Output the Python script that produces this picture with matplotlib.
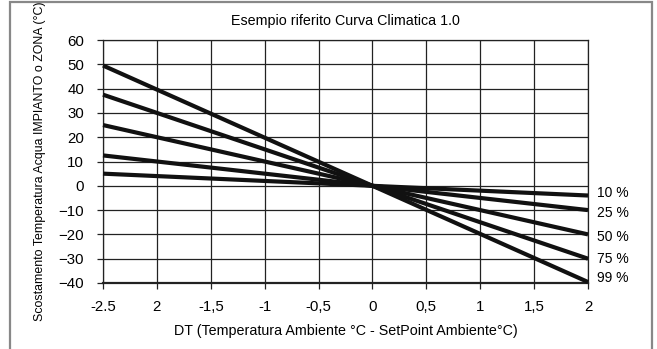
import matplotlib
matplotlib.use("Agg")
from matplotlib import pyplot as plt
from matplotlib.patches import Rectangle

plt.rcParams['font.family'] = ['Liberation Sans', 'DejaVu Sans']

x_ends = [-2.5, 2]
x_ticks = [-2.5, -2, -1.5, -1, -0.5, 0, 0.5, 1, 1.5, 2]
x_tick_labels = ['-2.5', '2', '-1,5', '-1', '-0,5', '0', '0,5', '1', '1,5', '2']
y_ticks = [-40, -30, -20, -10, 0, 10, 20, 30, 40, 50, 60]

curve_names = ['10 %', '25 %', '50 %', '75 %', '99 %']
curve_values = {
    '10 %': [5, -4],
    '25 %': [12.5, -10],
    '50 %': [25, -20],
    '75 %': [37.5, -30],
    '99 %': [49.5, -39.6],
}
label_y = {'10 %': -3, '25 %': -11, '50 %': -21, '75 %': -30, '99 %': -38}

fig = plt.figure(figsize=(6.57, 3.49), dpi=100, facecolor='white')
ax = fig.add_axes([103 / 657, 1 - 283 / 349, 485 / 657, 243 / 349])

for name in curve_names:
    ax.plot(x_ends, curve_values[name], color='#111111', lw=3.0,
            solid_capstyle='butt', zorder=3, clip_on=False)
    ax.text(2.08, label_y[name], name, fontsize=10, va='center', ha='left')

ax.set_xlim(-2.5, 2)
ax.set_ylim(-40, 60)
ax.set_xticks(x_ticks)
ax.set_xticklabels(x_tick_labels)
ax.set_yticks(y_ticks)
ax.grid(True, color='#222222', lw=0.9)
ax.set_axisbelow(True)
for s in ax.spines.values():
    s.set_color('#222222')
    s.set_linewidth(0.9)
ax.spines['bottom'].set_linewidth(1.6)
ax.tick_params(axis='both', length=4.5, width=0.9, color='#222222', labelsize=10.8)
ax.tick_params(axis='y', pad=9)
ax.tick_params(axis='x', pad=8)

ax.set_title('Esempio riferito Curva Climatica 1.0', fontsize=10.3, pad=11)
ax.set_xlabel('DT (Temperatura Ambiente °C - SetPoint Ambiente°C)', fontsize=10.3, labelpad=7)
ax.set_ylabel('Scostamento Temperatura Acqua IMPIANTO o ZONA (°C)', fontsize=8.9, labelpad=9)

fig.patches.append(Rectangle((10 / 657, -0.05), 642 / 657, 1.05 - 2 / 349,
                             transform=fig.transFigure, fill=False,
                             edgecolor='#888888', lw=1.6))

fig.savefig('out.png', dpi=100)
plt.close()
